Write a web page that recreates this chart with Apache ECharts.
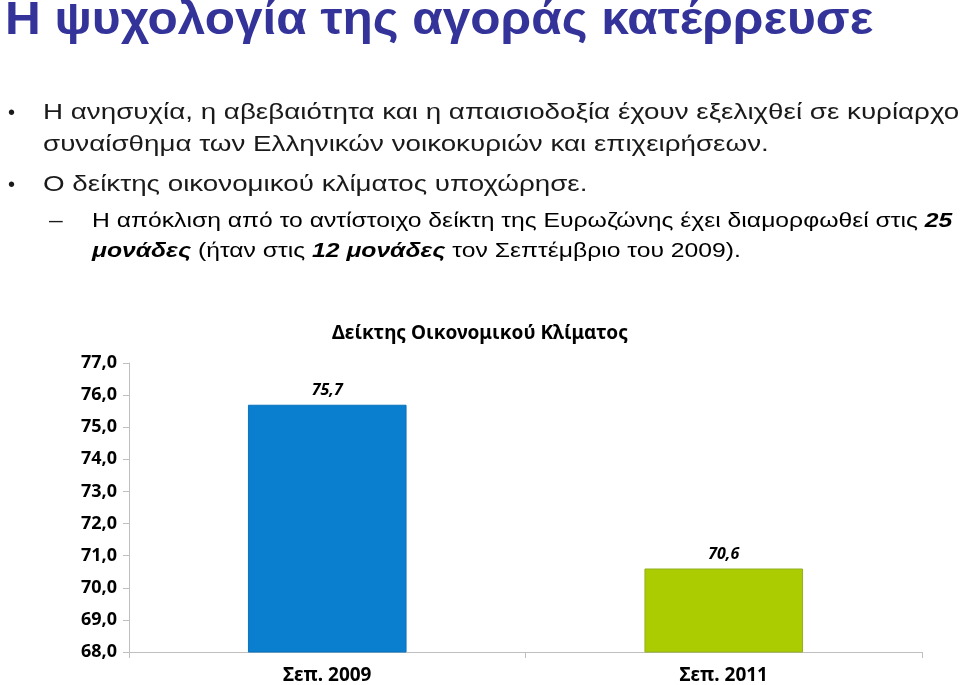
<!DOCTYPE html>
<html>
<head>
<meta charset="utf-8">
<script src="https://cdn.jsdelivr.net/npm/echarts@6/dist/echarts.min.js"></script>
<style>
html,body{margin:0;padding:0;background:#fff;}
#chart{width:960px;height:685px;}
</style>
</head>
<body>
<div id="chart"></div>
<script>
// ---- data ----
const categories = ['Σεπ. 2009', 'Σεπ. 2011'];
const values = [75.7, 70.6];
const barColors = ['#0a7ecf', '#aacc00'];
const barBorders = ['#0a72bb', '#92b020'];
const yMin = 68;
const yMax = 77;
const yStep = 1;
const chartTitle = 'Δείκτης Οικονομικού Κλίματος';
const slideTitle = 'Η ψυχολογία της αγοράς κατέρρευσε';
const bullet1a = 'Η ανησυχία, η αβεβαιότητα και η απαισιοδοξία έχουν εξελιχθεί σε κυρίαρχο';
const bullet1b = 'συναίσθημα των Ελληνικών νοικοκυριών και επιχειρήσεων.';
const bullet2 = 'Ο δείκτης οικονομικού κλίματος υποχώρησε.';
const sub1a = 'Η απόκλιση από το αντίστοιχο δείκτη της Ευρωζώνης έχει διαμορφωθεί στις ';
const sub1hl = '25';
const sub2hl1 = 'μονάδες';
const sub2a = ' (ήταν στις ';
const sub2hl2 = '12 μονάδες';
const sub2b = ' τον Σεπτέμβριο του 2009).';

const comma = v => v.toFixed(1).replace('.', ',');
const chartFont = '"Noto Sans", "Open Sans", sans-serif';
const slideFont = '"Liberation Sans", Arial, sans-serif';
const blue = '#333399';
const ink = '#1a1a1a';

const chart = echarts.init(document.getElementById('chart'));
const bodyStyle = {fontFamily: slideFont, fontSize: 22, fill: ink, verticalAlign: 'middle'};
const hl = {fontFamily: slideFont, fontSize: 20, fontStyle: 'italic', fontWeight: 'bold', color: blue};
const bodyScale = 1.262;
const subScale = 1.235;

chart.setOption({
  animation: false,
  title: {
    text: chartTitle,
    left: 'center',
    top: 319,
    textStyle: {fontFamily: chartFont, fontSize: 19, fontWeight: 'bold', color: '#000'}
  },
  grid: {left: 129, right: 38, top: 363, bottom: 33, containLabel: false, outerBoundsMode: 'none'},
  xAxis: {
    type: 'category',
    data: categories,
    axisLine: {lineStyle: {color: '#bfbfbf'}},
    axisTick: {show: true, length: 6, lineStyle: {color: '#bfbfbf'}},
    axisLabel: {fontFamily: chartFont, fontSize: 19, fontWeight: 'bold', color: '#000', margin: 14}
  },
  yAxis: {
    type: 'value',
    min: yMin, max: yMax, interval: yStep,
    splitLine: {show: false},
    axisLine: {show: true, lineStyle: {color: '#bfbfbf'}},
    axisTick: {show: true, length: 6, lineStyle: {color: '#bfbfbf'}},
    axisLabel: {fontFamily: chartFont, fontSize: 18, fontWeight: 'bold', color: '#000', margin: 12, formatter: comma}
  },
  series: [{
    type: 'bar',
    barWidth: '40%',
    data: values.map((v, i) => ({value: v, itemStyle: {color: barColors[i], borderColor: barBorders[i], borderWidth: 1}})),
    label: {
      show: true, position: 'top', distance: 6,
      fontFamily: chartFont, fontSize: 16, fontStyle: 'italic', fontWeight: 'bold', color: '#000',
      formatter: p => comma(p.value)
    }
  }],
  graphic: [
    {type: 'text', x: 5, y: 21, scaleX: 1.077, style: {text: slideTitle, fontFamily: slideFont, fontSize: 46, fontWeight: 'bold', fill: blue, verticalAlign: 'middle'}},
    {type: 'text', x: 8, y: 113, style: {text: '•', fontFamily: slideFont, fontSize: 20, fill: ink, verticalAlign: 'middle'}},
    {type: 'text', x: 43, y: 113, scaleX: bodyScale, style: Object.assign({text: bullet1a}, bodyStyle)},
    {type: 'text', x: 43, y: 145, scaleX: bodyScale, style: Object.assign({text: bullet1b}, bodyStyle)},
    {type: 'text', x: 8, y: 185, style: {text: '•', fontFamily: slideFont, fontSize: 20, fill: ink, verticalAlign: 'middle'}},
    {type: 'text', x: 43, y: 185, scaleX: bodyScale, style: Object.assign({text: bullet2}, bodyStyle)},
    {type: 'text', x: 49, y: 221, scaleX: subScale, style: {text: '–', fontFamily: slideFont, fontSize: 20, fill: ink, verticalAlign: 'middle'}},
    {type: 'text', x: 92, y: 221, scaleX: subScale, style: {
      text: '{n|' + sub1a + '}{h|' + sub1hl + '}', verticalAlign: 'middle',
      rich: {n: {fontFamily: slideFont, fontSize: 20, color: ink}, h: hl}
    }},
    {type: 'text', x: 92, y: 251, scaleX: subScale, style: {
      text: '{h|' + sub2hl1 + '}{n|' + sub2a + '}{h|' + sub2hl2 + '}{n|' + sub2b + '}', verticalAlign: 'middle',
      rich: {n: {fontFamily: slideFont, fontSize: 20, color: ink}, h: hl}
    }}
  ]
});
</script>
</body>
</html>
